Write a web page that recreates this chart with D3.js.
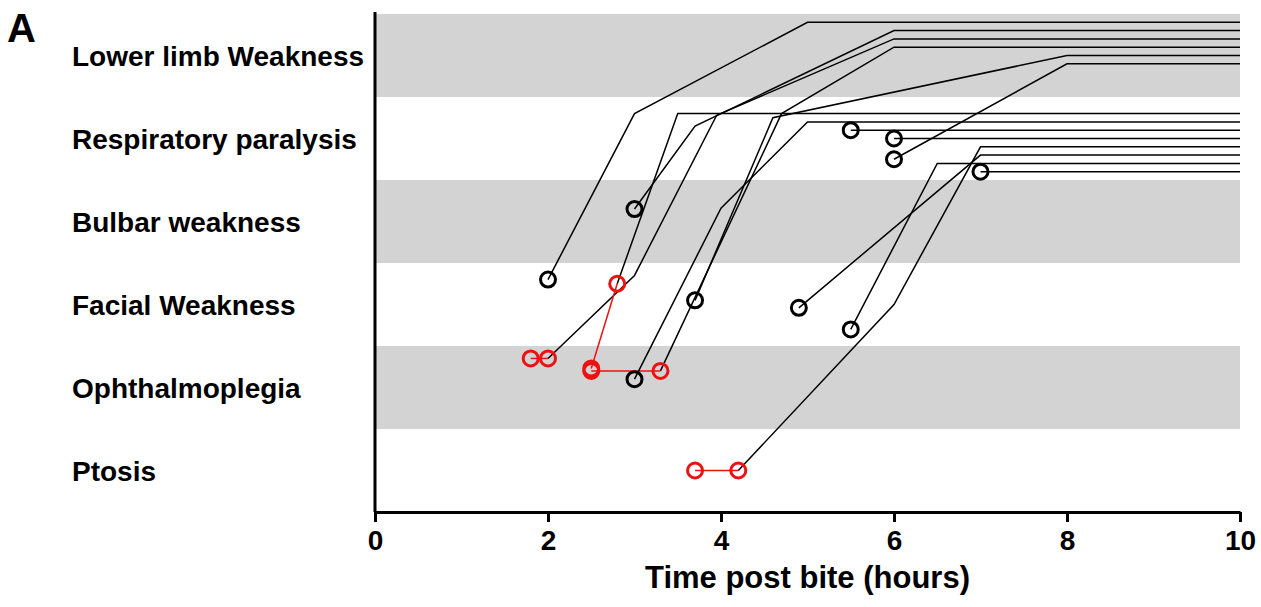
<!DOCTYPE html>
<html>
<head>
<meta charset="utf-8">
<script src="https://cdn.jsdelivr.net/npm/d3@7"></script>
<style>
  body { margin: 0; background: #fff; }
  text { font-family: "Liberation Sans", Arial, sans-serif; font-weight: bold; fill: #000; }
</style>
</head>
<body>
<svg id="chart" width="1261" height="607"></svg>
<script>
// symptom levels, bottom to top
let categories = ["Ptosis", "Ophthalmoplegia", "Facial Weakness", "Bulbar weakness", "Respiratory paralysis", "Lower limb Weakness"];
let shadedLevels = [1, 3, 5];
let xTicks = [0, 2, 4, 6, 8, 10];

// one row per patient: times (hours) and level reached (category index + offset)
let patientTimes = [
  [2.0, 3.0, 5.0, 10],
  [3.0, 3.7, 6.0, 10],
  [1.8, 2.0, 3.0, 3.95, 6.0, 10],
  [2.5, 3.3, 4.7, 6.0, 10],
  [3.7, 4.6, 8.0, 10],
  [6.0, 8.0, 10],
  [2.5, 2.8, 3.5, 10],
  [3.0, 4.0, 5.0, 10],
  [5.5, 10],
  [6.0, 10],
  [3.7, 4.2, 6.0, 7.0, 10],
  [4.9, 7.0, 10],
  [5.5, 6.5, 10],
  [7.0, 10]
];
let patientLevels = [
  [2.8, 4.8, 5.9, 5.9],
  [3.65, 4.65, 5.8, 5.8],
  [1.85, 1.85, 2.85, 4.78, 5.7, 5.7],
  [1.7, 1.7, 4.8, 5.6, 5.6],
  [2.55, 4.75, 5.5, 5.5],
  [4.25, 5.4, 5.4],
  [1.73, 2.75, 4.8, 4.8],
  [1.6, 3.66, 4.7, 4.7],
  [4.6, 4.6],
  [4.5, 4.5],
  [0.5, 0.5, 2.5, 4.4, 4.4],
  [2.46, 4.3, 4.3],
  [2.2, 4.2, 4.2],
  [4.1, 4.1]
];
// how many leading points of each patient are drawn in red
let redPoints = [0, 0, 2, 2, 0, 0, 2, 0, 0, 0, 2, 0, 0, 0];

let svg = d3.select("svg#chart");
let margin = { "top": 14, "right": 21, "bottom": 95, "left": 375 };
let width = +svg.attr("width");
let height = +svg.attr("height");

let xScale = d3.scaleLinear().domain([0, 10]).range([margin.left, width - margin.right]);
let yScale = d3.scaleLinear().domain([0, 6]).range([height - margin.bottom, margin.top]);

// grey bands
svg.selectAll("rect.band")
  .data(shadedLevels)
  .enter().append("rect")
  .attr("class", "band")
  .attr("x", xScale(0))
  .attr("y", d => yScale(d + 1))
  .attr("width", xScale(10) - xScale(0))
  .attr("height", d => yScale(d) - yScale(d + 1))
  .attr("fill", "#d3d3d3");

let line = d3.line()
  .x(d => xScale(d[0]))
  .y(d => yScale(d[1]));

for (let i = 0; i < patientTimes.length; i++) {
  let pts = patientTimes[i].map((t, j) => [t, patientLevels[i][j]]);
  let nRed = redPoints[i];
  let blackPart = nRed > 0 ? pts.slice(nRed - 1) : pts;

  svg.append("path")
    .attr("d", line(blackPart))
    .attr("fill", "none")
    .attr("stroke", "#000")
    .attr("stroke-width", 1.5)
    .attr("stroke-linejoin", "miter");

  if (nRed > 0) {
    svg.append("path")
      .attr("d", line(pts.slice(0, nRed)))
      .attr("fill", "none")
      .attr("stroke", "#ee1111")
      .attr("stroke-width", 1.5);
    for (let j = 0; j < nRed; j++) {
      svg.append("circle")
        .attr("cx", xScale(pts[j][0]))
        .attr("cy", yScale(pts[j][1]))
        .attr("r", 7.5)
        .attr("fill", "none")
        .attr("stroke", "#ee1111")
        .attr("stroke-width", 3);
    }
  } else {
    svg.append("circle")
      .attr("cx", xScale(pts[0][0]))
      .attr("cy", yScale(pts[0][1]))
      .attr("r", 7.5)
      .attr("fill", "none")
      .attr("stroke", "#000")
      .attr("stroke-width", 3);
  }
}

// axes
let xAxis = d3.axisBottom(xScale).tickValues(xTicks).tickSize(10).tickSizeOuter(0).tickPadding(8);
let gx = svg.append("g")
  .attr("transform", "translate(0," + yScale(0) + ")")
  .call(xAxis);
gx.select(".domain").attr("stroke-width", 3);
gx.selectAll(".tick line").attr("stroke-width", 3);
gx.selectAll(".tick text")
  .style("font-size", "28px")
  .style("font-family", "'Liberation Sans', Arial, sans-serif")
  .style("font-weight", "bold");

svg.append("line")
  .attr("x1", xScale(0)).attr("x2", xScale(0))
  .attr("y1", yScale(6) - 2).attr("y2", yScale(0))
  .attr("stroke", "#000")
  .attr("stroke-width", 3);

// category labels
svg.selectAll("text.cat")
  .data(categories)
  .enter().append("text")
  .attr("class", "cat")
  .attr("x", 72)
  .attr("y", (d, i) => yScale(i + 0.5) + 10)
  .style("font-size", "28px")
  .text(d => d);

svg.append("text")
  .attr("x", (xScale(0) + xScale(10)) / 2)
  .attr("y", 588)
  .attr("text-anchor", "middle")
  .style("font-size", "31px")
  .text("Time post bite (hours)");

svg.append("text")
  .attr("x", 7)
  .attr("y", 42)
  .style("font-size", "40px")
  .style("font-weight", "900")
  .text("A");
</script>
</body>
</html>
